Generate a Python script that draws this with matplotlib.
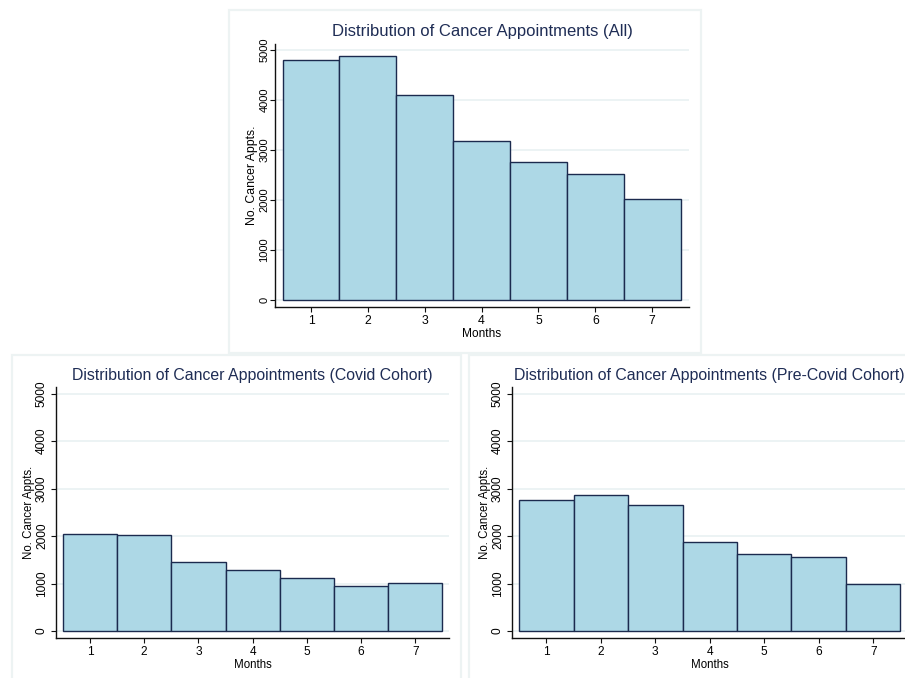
import matplotlib
matplotlib.use("Agg")
import matplotlib.pyplot as plt
from matplotlib.patches import Rectangle

plt.rcParams['font.family'] = ['Liberation Sans', 'DejaVu Sans']

months = [1, 2, 3, 4, 5, 6, 7]
appts_all = [4810, 4890, 4110, 3180, 2760, 2525, 2030]
appts_covid = [2040, 2015, 1450, 1290, 1120, 955, 1005]
appts_precovid = [2760, 2870, 2650, 1870, 1620, 1550, 1000]
yticks = [0, 1000, 2000, 3000, 4000, 5000]

titles = ["Distribution of Cancer Appointments (All)",
          "Distribution of Cancer Appointments (Covid Cohort)",
          "Distribution of Cancer Appointments (Pre-Covid Cohort)"]
xlabel = "Months"
ylabel = "No. Cancer Appts."

W, H = 905, 678
fig = plt.figure(figsize=(W / 100, H / 100), dpi=100)

FILL = '#add8e6'
EDGE = '#1b2a4e'
TITLE_C = '#1f2d55'
GRID_C = '#e9f1f2'
PANEL_C = '#edf3f3'


def panel(l, t, r, b):
    fig.patches.append(Rectangle((l / W, 1 - b / H), (r - l) / W, (b - t) / H,
                                 transform=fig.transFigure, fill=False,
                                 edgecolor=PANEL_C, linewidth=1.6, zorder=0))


def make_axes(l, t, r, b, xlim, ylim, values, title, tfs, xfs, yfs, lfs, ylfs,
              ypad, tpad):
    ax = fig.add_axes([l / W, 1 - b / H, (r - l) / W, (b - t) / H])
    ax.set_facecolor('none')
    ax.bar(months, values, width=1.0, color=FILL, edgecolor=EDGE,
           linewidth=1.0, zorder=3)
    ax.set_xlim(*xlim)
    ax.set_ylim(*ylim)
    ax.set_xticks(months)
    ax.set_yticks(yticks)
    ax.set_yticklabels([str(v) for v in yticks], rotation=90, va='center')
    ax.yaxis.grid(True, color=GRID_C, linewidth=1.2, zorder=0)
    ax.set_axisbelow(True)
    for s in ['top', 'right']:
        ax.spines[s].set_visible(False)
    for s in ['left', 'bottom']:
        ax.spines[s].set_color('#111111')
        ax.spines[s].set_linewidth(1.0)
    ax.tick_params(axis='both', length=3.6, width=0.8, color='#111111')
    ax.tick_params(axis='x', pad=2, labelsize=xfs)
    ax.tick_params(axis='y', pad=ypad, labelsize=yfs)
    ax.set_xlabel(xlabel, fontsize=lfs, labelpad=1)
    ax.set_ylabel(ylabel, fontsize=ylfs, labelpad=1)
    ax.set_title(title, fontsize=tfs, color=TITLE_C, pad=tpad)
    return ax


panel(229, 10, 701, 353)
panel(12, 355, 461, 700)
panel(469, 355, 920, 700)

make_axes(275, 44, 689, 307, (0.366, 7.648), (-140, 5120), appts_all,
          titles[0], 12, 8.8, 8, 8.6, 8.8, 0.3, 6)
make_axes(56, 387, 449, 638, (0.373, 7.62), (-147, 5140), appts_covid,
          titles[1], 11.4, 8.6, 8.6, 8.3, 8.3, 2.2, 5)
make_axes(512, 387, 907, 638, (0.37, 7.62), (-147, 5140), appts_precovid,
          titles[2], 11.4, 8.6, 8.6, 8.3, 8.3, 2.2, 5)

fig.savefig("out.png", dpi=100, facecolor='white')
